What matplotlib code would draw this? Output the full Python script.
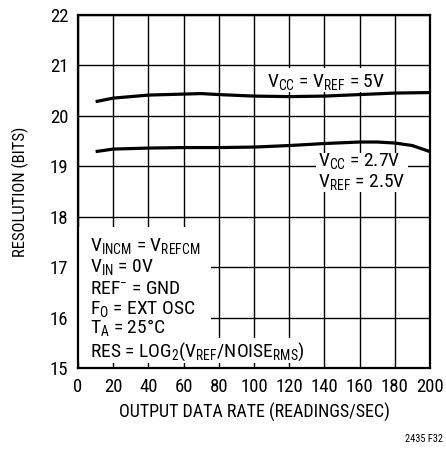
import matplotlib
matplotlib.use("Agg")
import matplotlib.pyplot as plt
from matplotlib.patches import Rectangle

# data
rate = [10, 20, 40, 60, 70, 80, 100, 120, 140, 160, 180, 200]
res_5v = [20.28, 20.35, 20.41, 20.43, 20.44, 20.42, 20.39, 20.38, 20.39, 20.42, 20.45, 20.46]
rate_27 = [10, 20, 40, 60, 80, 100, 120, 140, 160, 170, 180, 190, 200]
res_27v = [19.29, 19.34, 19.36, 19.37, 19.37, 19.38, 19.41, 19.45, 19.48, 19.48, 19.46, 19.41, 19.29]
x_ticks = list(range(0, 201, 20))
y_ticks = list(range(15, 23))

cond_lines = [
    "V$_{INCM}$ = V$_{REFCM}$",
    "V$_{IN}$ = 0V",
    "REF$^{-}$ = GND",
    "F$_{O}$ = EXT OSC",
    "T$_{A}$ = 25°C",
]
cond_y = [17.32, 16.90, 16.47, 16.07, 15.69]

plt.rcParams["font.family"] = ["Roboto Condensed", "Liberation Sans"]
plt.rcParams["mathtext.default"] = "regular"

fig = plt.figure(figsize=(4.46, 4.5), dpi=100)
ax = fig.add_axes([0.175, 0.182, 0.789, 0.785])

ax.plot(rate, res_5v, color="black", linewidth=2.3, solid_capstyle="butt", zorder=3)
ax.plot(rate_27, res_27v, color="black", linewidth=2.3, solid_capstyle="butt", zorder=3)

ax.set_xlim(0, 200)
ax.set_ylim(15, 22)
ax.set_xticks(x_ticks)
ax.set_yticks(y_ticks)
ax.tick_params(length=0, labelsize=13.5)
ax.tick_params(axis="y", pad=7)
ax.tick_params(axis="x", pad=7)
ax.grid(True, color="black", linewidth=1.0)
ax.set_axisbelow(True)
for s in ax.spines.values():
    s.set_linewidth(1.6)
    s.set_zorder(5)

ax.set_xlabel("OUTPUT DATA RATE (READINGS/SEC)", fontsize=13, labelpad=5)
ax.set_ylabel("RESOLUTION (BITS)", fontsize=12, labelpad=15)

# white areas behind the notes
ax.add_patch(Rectangle((0, 15.1), 75.6, 2.69, facecolor="white", edgecolor="none", zorder=2))
ax.add_patch(Rectangle((0, 15.1), 132, 0.5, facecolor="white", edgecolor="none", zorder=2))
ax.add_patch(Rectangle((135, 18.49), 52.5, 0.77, facecolor="white", edgecolor="none", zorder=2))
ax.add_patch(Rectangle((107, 20.47), 69, 0.48, facecolor="white", edgecolor="none", zorder=2))

ax.text(141, 20.57, "V$_{CC}$ = V$_{REF}$ = 5V", fontsize=14,
        ha="center", va="baseline", zorder=4)
ax.text(136.4, 19.01, "V$_{CC}$ = 2.7V", fontsize=14, ha="left", va="baseline", zorder=4)
ax.text(136.4, 18.58, "V$_{REF}$ = 2.5V", fontsize=14, ha="left", va="baseline", zorder=4)

for line, yv in zip(cond_lines, cond_y):
    ax.text(6.6, yv, line, fontsize=14, ha="left", va="baseline", zorder=4)
ax.text(6.6, 15.22, "RES = LOG$_{2}$(V$_{REF}$/NOISE$_{RMS}$)", fontsize=14,
        ha="left", va="baseline", zorder=4)

fig.text(0.993, 0.025, "2435 F32", fontsize=7.5, ha="right", va="center")

fig.savefig("out.png", dpi=100)
